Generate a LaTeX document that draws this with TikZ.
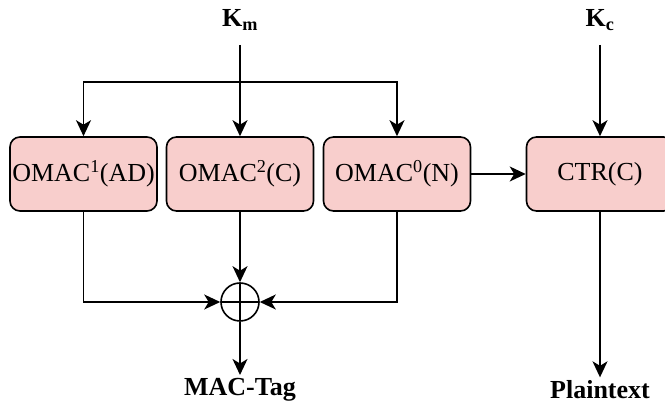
\documentclass[tikz,border=0pt]{standalone}
\usepackage{fontspec}
\setmainfont{Liberation Serif}
\newfontfamily\serifrm{Liberation Serif}
\usetikzlibrary{arrows.meta,positioning}
\definecolor{boxpink}{HTML}{F8CECC}
\tikzset{
  blk/.style={draw,fill=boxpink,rounded corners=10pt,line width=1.6pt,minimum width=147pt,minimum height=74pt,inner sep=0pt,font=\serifrm\fontsize{26}{30}\selectfont},
  lbl/.style={font=\serifrm\fontsize{26}{30}\selectfont\bfseries},
  line/.style={line width=1.6pt},
  wire/.style={line,-{Stealth[length=16pt,width=15pt,inset=4.5pt]}},
  xorop/.style={circle,draw,line,minimum size=38pt,inner sep=0pt,
    path picture={\draw[line] (path picture bounding box.north) -- (path picture bounding box.south)
      (path picture bounding box.west) -- (path picture bounding box.east);}}
}

\begin{document}
\begin{tikzpicture}[x=1pt,y=-1pt]
  \useasboundingbox (0,0) rectangle (665,411);
  % keys
  \node[lbl] (km) at (240,20) {K\textsubscript{m}};
  \node[lbl] (kc) at (600,20) {K\textsubscript{c}};
  % blocks
  \node[blk] (om1) at (83.5,174) {OMAC\textsuperscript{1}(AD)};
  \node[blk] (om2) at (240,174) {OMAC\textsuperscript{2}(C)};
  \node[blk] (om0) at (397,174) {OMAC\textsuperscript{0}(N)};
  \node[blk] (ctr) at (600,174) {CTR(C)};
  \node[xorop] (xor) at (240,302) {};
  % outputs
  \node[lbl] (tag) at (240,390) {MAC-Tag};
  \node[lbl] (pt) at (600,390) {Plaintext};
  \coordinate (split) at (240,82);
  % key wires
  \draw[wire] (km) ++(0,25) -- (om2.north);
  \draw[wire] (split) -| (om1.north);
  \draw[wire] (split) -| (om0.north);
  \draw[wire] (kc) ++(0,25) -- (ctr.north);
  \draw[wire] (om0.east) -- (ctr.west);
  % tag
  \draw[wire] (om1.south) |- (xor.west);
  \draw[wire] (om0.south) |- (xor.east);
  \draw[wire] (om2.south) -- (xor.north);
  \draw[wire] (xor.south) -- (tag.north);
  \draw[wire] (ctr.south) -- (pt.north);
\end{tikzpicture}
\end{document}
